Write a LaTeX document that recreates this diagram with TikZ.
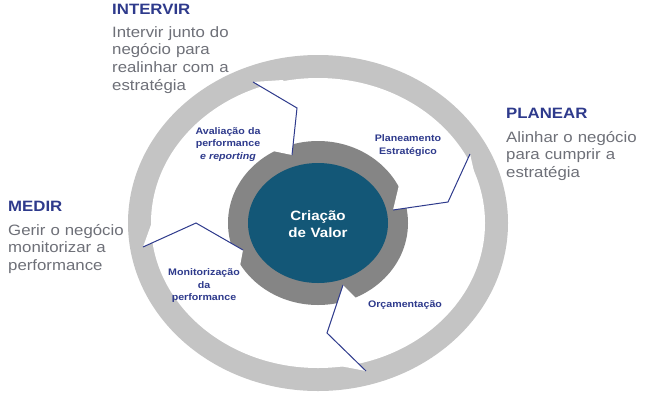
\documentclass[tikz,border=0pt]{standalone}
\usepackage{fontspec}
\setmainfont{Liberation Sans}[FakeStretch=1.12]
\usetikzlibrary{positioning}

\definecolor{navy}{HTML}{2E3A8C}
\definecolor{bodygray}{HTML}{6E7078}
\definecolor{ringlight}{HTML}{C4C4C4}
\definecolor{ringdark}{HTML}{858585}
\definecolor{coreblue}{HTML}{135777}

\begin{document}
\begin{tikzpicture}[
            x = 1pt, y = -1pt, % pixel grid, y going down
            title/.style = {anchor=base west, inner sep=0, text=navy,
                font=\fontsize{15}{18}\selectfont\bfseries},
            body/.style = {anchor=base west, inner sep=0, text=bodygray,
                align=left, text width=140pt, font=\fontsize{15}{17.8}\selectfont},
            stage/.style = {anchor=base, inner sep=0, text=navy,
                align=center, text width=90pt, font=\fontsize{9.5}{12.5}\selectfont\bfseries},
            callout/.style = {draw=navy, line width=1pt, line join=miter},
            cut/.style = {fill=white}
        ]

        \useasboundingbox (0,0) rectangle (655,413);
        \fill[white] (0,0) rectangle (655,413);

        % rings
        \coordinate (c) at (318,223);
        \fill[ringlight] (c) ellipse [x radius=190, y radius=168];
        \fill[white] (c) ellipse [x radius=167, y radius=145];
        \fill[ringdark] (c) ellipse [x radius=90, y radius=82];
        \fill[coreblue] (c) ellipse [x radius=70, y radius=60];

        % callout points
        \coordinate (aOut) at (253,82);
        \coordinate (aMid) at (297,108);
        \coordinate (aIn)  at (292,155);
        \coordinate (aOutCut) at (283,80);
        \coordinate (aInCut)  at (268,150);

        \coordinate (bOut) at (470,154);
        \coordinate (bMid) at (448,202);
        \coordinate (bIn)  at (393,210);
        \coordinate (bOutCut) at (476,180);
        \coordinate (bInCut)  at (399,185);

        \coordinate (cOut) at (366,371);
        \coordinate (cMid) at (327,333);
        \coordinate (cIn)  at (343,285);
        \coordinate (cOutCut) at (340,366);
        \coordinate (cInCut)  at (356,298);

        \coordinate (dOut) at (143,247);
        \coordinate (dMid) at (196,223);
        \coordinate (dIn)  at (243,250);
        \coordinate (dOutCut) at (152,222);
        \coordinate (dInCut)  at (240,266);

        % notches in the rings
        \foreach \k in {a,b,c,d} {
            \path[cut] (\k Out) -- (\k Mid) -- (\k OutCut) -- cycle;
            \path[cut] (\k In) -- (\k Mid) -- (\k InCut) -- cycle;
        }

        % callout lines
        \draw[callout] (aOut) -- (aMid) -- (aIn);
        \draw[callout] (bOut) -- (bMid) -- (bIn);
        \draw[callout] (cOut) -- (cMid) -- (cIn);
        \draw[callout] (dOut) -- (dMid) -- (dIn);

        % centre
        \node[anchor=base, inner sep=0, text=white, align=center, text width=90pt,
            font=\fontsize{13.5}{17.5}\selectfont\bfseries] (core) at (318,220)
            {Criação\\de Valor};

        % stages
        \node[stage] (aval) at (228,134) {Avaliação da\\performance\\\textit{e reporting}};
        \node[stage] (plan) at (408,141.5) {Planeamento\\Estratégico};
        \node[stage] (orca) at (405,307.5) {Orçamentação};
        \node[stage] (moni) at (204,275.5) {Monitorização\\da\\performance};

        % side texts
        \node[title] (intervir) at (112,14) {INTERVIR};
        \node[body] (intervirTxt) at (112,37) {Intervir junto do\\negócio para\\realinhar com a\\estratégia};

        \node[title] (planear) at (506,118) {PLANEAR};
        \node[body] (planearTxt) at (506,142) {Alinhar o negócio\\para cumprir a\\estratégia};

        \node[title] (medir) at (8,211) {MEDIR};
        \node[body] (medirTxt) at (8,235) {Gerir o negócio\\monitorizar a\\performance};
    \end{tikzpicture}
\end{document}
